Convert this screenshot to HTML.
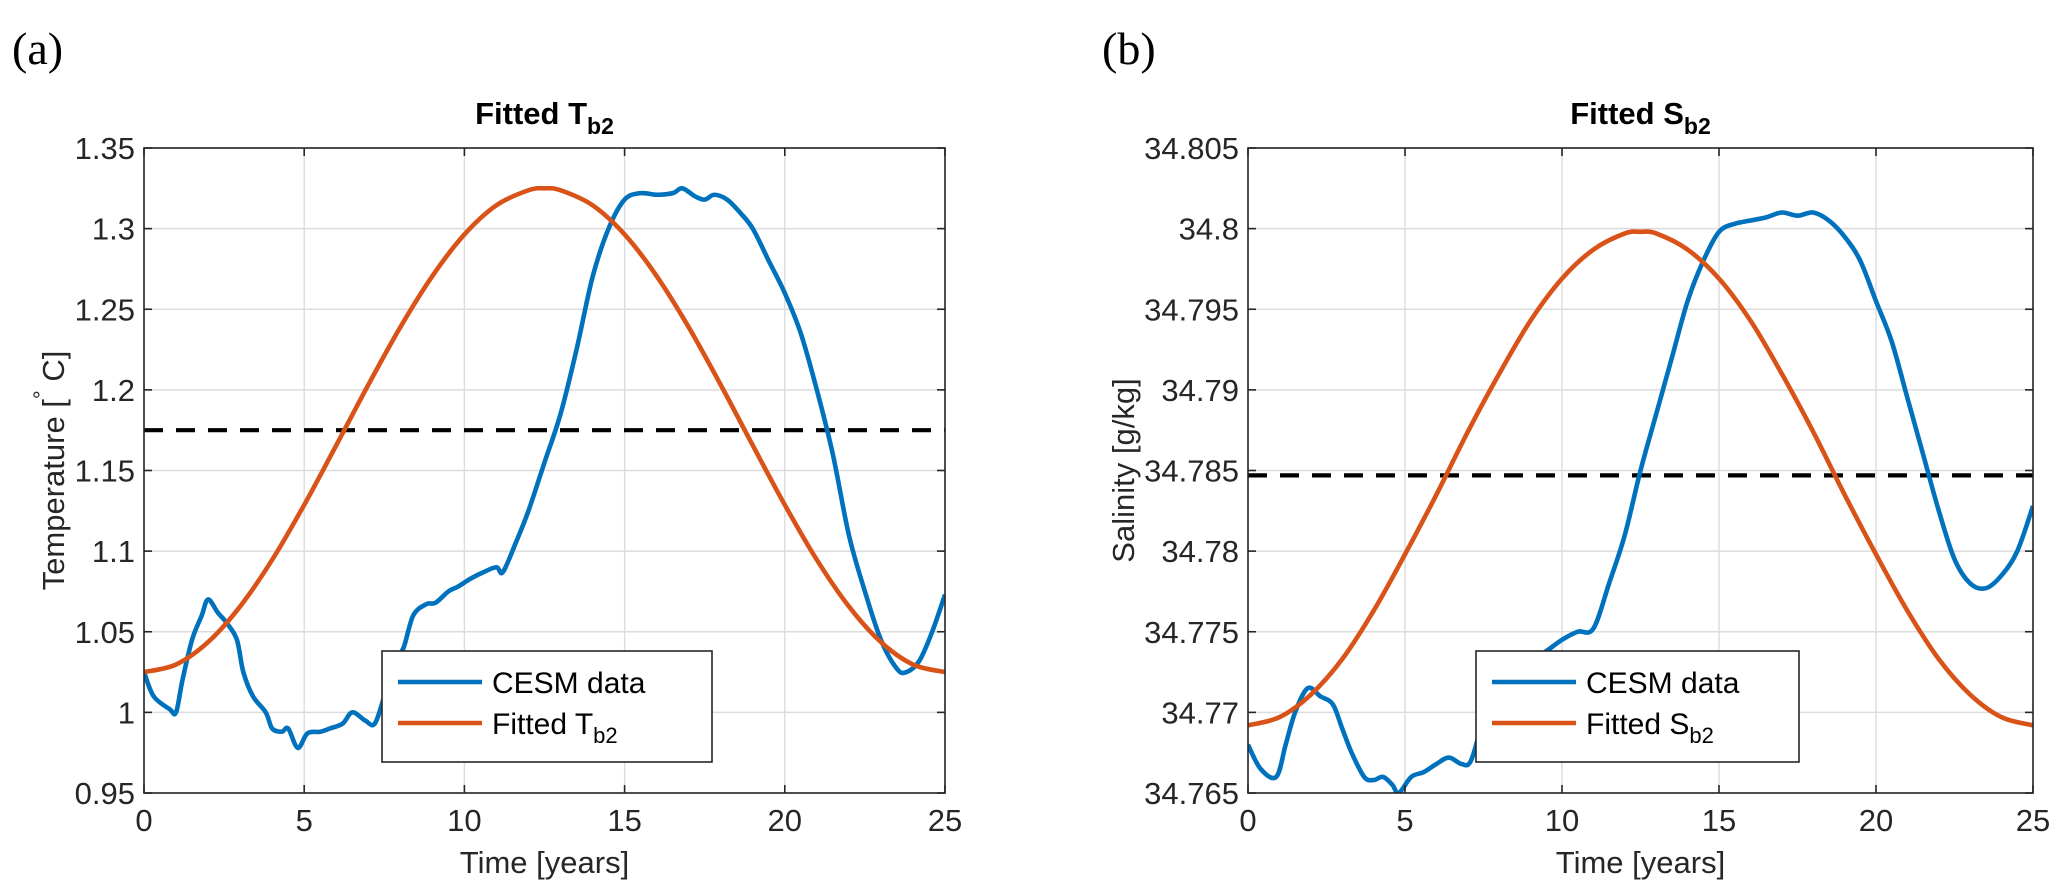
<!DOCTYPE html>
<html><head><meta charset="utf-8">
<style>
html,body{margin:0;padding:0;background:#fff;}
svg{display:block;font-family:"Liberation Sans",Arial,sans-serif;}
</style></head>
<body>
<svg id="fig" width="2067" height="890" viewBox="0 0 2067 890" xmlns="http://www.w3.org/2000/svg"></svg>
<script>
// ---- data ----
const tTicks = [0,5,10,15,20,25];
const tempTicks = [0.95,1,1.05,1.1,1.15,1.2,1.25,1.3,1.35];
const tempTickLabels = ["0.95","1","1.05","1.1","1.15","1.2","1.25","1.3","1.35"];
const salTicks = [34.765,34.77,34.775,34.78,34.785,34.79,34.795,34.8,34.805];
const salTickLabels = ["34.765","34.77","34.775","34.78","34.785","34.79","34.795","34.8","34.805"];

const fitT_x = [0,1,2,3,4,5,6,7,8,9,10,11,12,12.5,13,14,15,16,17,18,19,20,21,22,23,24,25];
const fitT_y = [1.025,1.0297,1.0436,1.0657,1.0946,1.1287,1.1656,1.2031,1.2389,1.2706,1.2964,1.3145,1.3238,1.325,1.3238,1.3145,1.2964,1.2706,1.2389,1.2031,1.1656,1.1287,1.0946,1.0657,1.0436,1.0297,1.025];
const fitS_y = [34.7692,34.7697,34.7711,34.7733,34.7763,34.7798,34.7835,34.7874,34.791,34.7943,34.7969,34.7987,34.7997,34.7998,34.7997,34.7987,34.7969,34.7943,34.791,34.7874,34.7835,34.7798,34.7763,34.7733,34.7711,34.7697,34.7692];

const cesmT_x = [0,0.3,0.8,1.0,1.2,1.5,1.8,2.0,2.3,2.6,2.9,3.1,3.4,3.8,4.0,4.3,4.5,4.8,5.1,5.5,5.8,6.2,6.5,6.9,7.2,7.5,7.8,8.1,8.4,8.8,9.1,9.5,9.8,10.2,10.6,11.0,11.2,11.6,12.0,12.5,13.0,13.5,14.0,14.5,15.0,15.5,16.0,16.5,16.8,17.2,17.5,17.8,18.2,18.6,19.0,19.5,20.0,20.5,21.0,21.5,22.0,22.5,23.0,23.5,23.8,24.2,24.6,25.0];
const cesmT_y = [1.025,1.01,1.002,1.0,1.02,1.045,1.06,1.07,1.062,1.055,1.045,1.025,1.01,1.0,0.99,0.988,0.99,0.978,0.987,0.988,0.99,0.993,1.0,0.995,0.993,1.01,1.03,1.04,1.06,1.067,1.068,1.075,1.078,1.083,1.087,1.09,1.087,1.105,1.125,1.155,1.185,1.225,1.27,1.3,1.318,1.322,1.321,1.322,1.325,1.32,1.318,1.321,1.318,1.31,1.3,1.28,1.26,1.235,1.2,1.16,1.11,1.075,1.045,1.027,1.025,1.032,1.05,1.073];

const cesmS_x = [0,0.4,0.9,1.2,1.5,1.9,2.3,2.7,3.0,3.3,3.7,4.0,4.3,4.6,4.8,5.2,5.6,6.0,6.4,6.8,7.1,7.5,8.0,8.5,9.0,9.5,10.0,10.5,11.0,11.5,12.0,12.5,13.0,13.5,14.0,14.5,15.0,15.5,16.0,16.5,17.0,17.5,18.0,18.5,19.0,19.5,20.0,20.5,21.0,21.5,22.0,22.5,23.0,23.5,24.0,24.5,25.0];
const cesmS_y = [34.768,34.7665,34.766,34.768,34.770,34.7715,34.771,34.7705,34.769,34.7675,34.766,34.7658,34.766,34.7655,34.765,34.766,34.7663,34.7668,34.7672,34.7668,34.767,34.7695,34.7715,34.7725,34.7732,34.7738,34.7745,34.775,34.7752,34.778,34.781,34.785,34.7885,34.792,34.7955,34.798,34.7998,34.8003,34.8005,34.8007,34.801,34.8008,34.801,34.8005,34.7995,34.798,34.7955,34.793,34.7895,34.786,34.7825,34.7795,34.778,34.7777,34.7785,34.780,34.7828];

const meanT = 1.175;
const meanS = 34.7847;

// ---- drawing ----
const NS = "http://www.w3.org/2000/svg";
const svg = document.getElementById('fig');
function mk(tag, attrs, parent){
  const e = document.createElementNS(NS, tag);
  for (const k in attrs) e.setAttribute(k, attrs[k]);
  (parent||svg).appendChild(e);
  return e;
}
function smoothPath(pts){
  let d = "M" + pts[0][0].toFixed(2) + "," + pts[0][1].toFixed(2);
  for (let i=0;i<pts.length-1;i++){
    const p0 = pts[Math.max(0,i-1)], p1 = pts[i], p2 = pts[i+1], p3 = pts[Math.min(pts.length-1,i+2)];
    const c1x = p1[0]+(p2[0]-p0[0])/6, c1y = p1[1]+(p2[1]-p0[1])/6;
    const c2x = p2[0]-(p3[0]-p1[0])/6, c2y = p2[1]-(p3[1]-p1[1])/6;
    d += " C"+c1x.toFixed(2)+","+c1y.toFixed(2)+" "+c2x.toFixed(2)+","+c2y.toFixed(2)+" "+p2[0].toFixed(2)+","+p2[1].toFixed(2);
  }
  return d;
}

function panel(o){
  const g = mk('g', {});
  
  
  const sx = v => o.x0 + (v - 0) / 25 * (o.x1 - o.x0);
  const sy = v => o.y1 - (v - o.ymin) / (o.ymax - o.ymin) * (o.y1 - o.y0);

  tTicks.forEach(t => {
    const l = mk('line', {x1:sx(t), x2:sx(t), y1:o.y0, y2:o.y1, stroke:'#dcdcdc', 'stroke-width':1.4}, g);
    
    
  });
  o.yTicks.forEach(v => {
    const l = mk('line', {x1:o.x0, x2:o.x1, y1:sy(v), y2:sy(v), stroke:'#dcdcdc', 'stroke-width':1.4}, g);
    
    
  });

  const dm = mk('line', {x1:o.x0, x2:o.x1, y1:sy(o.mean), y2:sy(o.mean), stroke:'#000', 'stroke-width':4.2, 'stroke-dasharray':'19 13'}, g);
  
  

  const cid = o.name + '-clip';
  const cp = mk('clipPath', {id:cid}, g);
  mk('rect', {x:o.x0, y:o.y0, width:o.x1-o.x0, height:o.y1-o.y0}, cp);

  const fitPts = fitT_x.map((t,i) => [sx(t), sy(o.fitY[i])]);
  const cesmPts = o.cx.map((t,i) => [sx(t), sy(o.cy[i])]);
  const bl = mk('path', {d:smoothPath(cesmPts), fill:'none', stroke:'#0072BD', 'stroke-width':4.6, 'stroke-linejoin':'round', 'clip-path':'url(#'+cid+')'}, g);
  
  
  const ol = mk('path', {d:smoothPath(fitPts), fill:'none', stroke:'#D95319', 'stroke-width':4.6, 'stroke-linejoin':'round', 'clip-path':'url(#'+cid+')'}, g);
  
  

  const box = mk('rect', {x:o.x0, y:o.y0, width:o.x1-o.x0, height:o.y1-o.y0, fill:'none', stroke:'#262626', 'stroke-width':1.6}, g);
  
  

  tTicks.forEach(t => {
    mk('line', {x1:sx(t), x2:sx(t), y1:o.y1, y2:o.y1-8, stroke:'#262626', 'stroke-width':1.6}, g);
    mk('line', {x1:sx(t), x2:sx(t), y1:o.y0, y2:o.y0+8, stroke:'#262626', 'stroke-width':1.6}, g);
    const tx = mk('text', {x:sx(t), y:o.y1+38, 'text-anchor':'middle', 'font-size':31, fill:'#262626'}, g);
    tx.textContent = String(t);
    
    
  });
  o.yTicks.forEach((v,i) => {
    mk('line', {x1:o.x0, x2:o.x0+8, y1:sy(v), y2:sy(v), stroke:'#262626', 'stroke-width':1.6}, g);
    mk('line', {x1:o.x1, x2:o.x1-8, y1:sy(v), y2:sy(v), stroke:'#262626', 'stroke-width':1.6}, g);
    const tx = mk('text', {x:o.x0-9, y:sy(v)+11, 'text-anchor':'end', 'font-size':31, fill:'#262626'}, g);
    tx.textContent = o.yLabels[i];
    
    
  });

  const xl = mk('text', {x:(o.x0+o.x1)/2, y:o.y1+80, 'text-anchor':'middle', 'font-size':31, fill:'#262626'}, g);
  xl.textContent = 'Time [years]';
  
  

  const yl = mk('text', {x:0, y:0, 'text-anchor':'middle', 'font-size':31, fill:'#262626', transform:'translate('+o.ylx+','+((o.y0+o.y1)/2+o.yloff)+') rotate(-90)'}, g);
  yl.innerHTML = o.ylab;
  
  

  const ti = mk('text', {x:(o.x0+o.x1)/2, y:124, 'text-anchor':'middle', 'font-size':31, 'font-weight':'bold', fill:'#000'}, g);
  ti.innerHTML = 'Fitted ' + o.sym + '<tspan dy="10" font-size="23">b2</tspan>';
  
  

  const pl = mk('text', {x:o.plx, y:64, 'font-size':46, 'font-family':'"Liberation Serif",serif', fill:'#000'}, g);
  pl.textContent = o.plab;
  
  

  const lg = mk('g', {}, g);
  
  
  mk('rect', {x:o.lx, y:651, width:o.lw, height:111, fill:'#fff', stroke:'#262626', 'stroke-width':1.6}, lg);
  const e1 = mk('g', {}, lg);
  
  
  mk('line', {x1:o.lx+16, x2:o.lx+100, y1:682, y2:682, stroke:'#0072BD', 'stroke-width':4.6}, e1);
  const t1 = mk('text', {x:o.lx+110, y:693, 'font-size':30, fill:'#000'}, e1);
  t1.textContent = 'CESM data';
  const e2 = mk('g', {}, lg);
  
  
  mk('line', {x1:o.lx+16, x2:o.lx+100, y1:723, y2:723, stroke:'#D95319', 'stroke-width':4.6}, e2);
  const t2 = mk('text', {x:o.lx+110, y:734, 'font-size':30, fill:'#000'}, e2);
  t2.innerHTML = 'Fitted ' + o.sym + '<tspan dy="9" font-size="22">b2</tspan>';
}

panel({name:'temperature-panel', x0:144, x1:945, y0:148, y1:793, ymin:0.95, ymax:1.35,
  yTicks:tempTicks, yLabels:tempTickLabels, fitY:fitT_y, cx:cesmT_x, cy:cesmT_y, mean:meanT,
  ylab:'Temperature [<tspan dy="-15" font-size="22">°</tspan><tspan dy="15"> C]</tspan>', ylx:64, yloff:0,
  sym:'T', plab:'(a)', plx:12, lx:382, lw:330});
panel({name:'salinity-panel', x0:1248, x1:2033, y0:148, y1:793, ymin:34.765, ymax:34.805,
  yTicks:salTicks, yLabels:salTickLabels, fitY:fitS_y, cx:cesmS_x, cy:cesmS_y, mean:meanS,
  ylab:'Salinity [g/kg]', ylx:1134, yloff:0,
  sym:'S', plab:'(b)', plx:1102, lx:1476, lw:323});
</script>
</body></html>
